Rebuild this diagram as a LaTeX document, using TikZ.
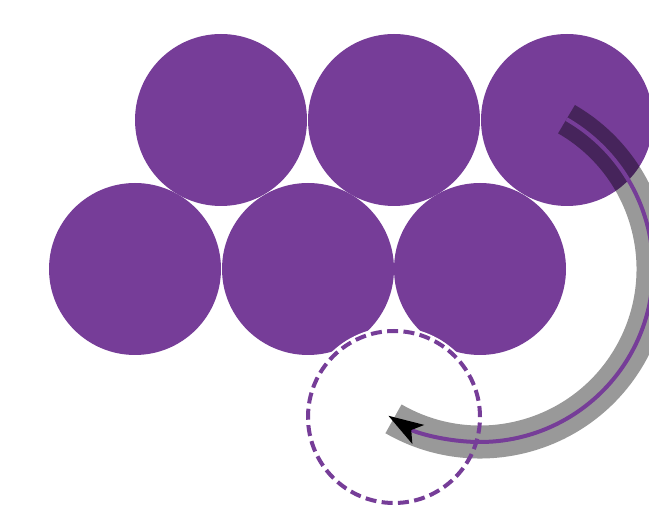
\documentclass[tikz,border=0pt]{standalone}
\usetikzlibrary{arrows.meta}
\definecolor{grape}{HTML}{763D98}
\tikzset{
  blob/.style={circle, fill=grape, minimum size=172pt, inner sep=0pt, outer sep=0pt},
  holeback/.style={circle, fill=white, minimum size=180pt, inner sep=0pt, outer sep=0pt},
  holeline/.style={draw=grape, line width=4pt, dash pattern=on 11pt off 5.37pt},
  band/.style={draw=black, draw opacity=0.4, line width=33pt},
  track/.style={draw=grape, line width=4pt, -{Stealth[length=35pt,width=22pt,inset=8pt,black]}}
}
\begin{document}
\begin{tikzpicture}[x=1pt,y=1pt]
\useasboundingbox (0,0) rectangle (649,-513);
\node[blob] (c1) at (221,-120) {};
\node[blob] (c2) at (394,-120) {};
\node[blob] (c3) at (567,-120) {};
\node[blob] (c4) at (135,-269) {};
\node[blob] (c5) at (308,-269) {};
\node[blob] (c6) at (480,-269) {};
\node[holeback] (t) at (394,-417) {};
\draw[band] ([shift={(60:173pt)}]c6.center) arc[start angle=60, end angle=-120, radius=173pt];
\draw[holeline] (t.center) circle[radius=86pt];
\draw[track] ([shift={(60:173pt)}]c6.center) arc[start angle=60, end angle=-122, radius=173pt];
\end{tikzpicture}
\end{document}
